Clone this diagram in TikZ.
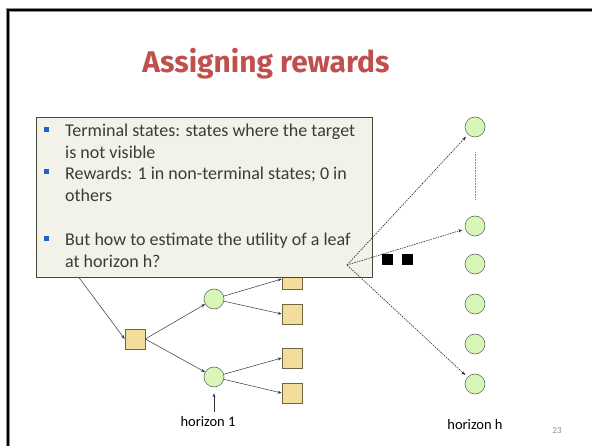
\documentclass[tikz,border=0pt]{standalone}
\usepackage{fontspec}
\setmainfont{Carlito}
\newfontfamily\titlefont{Fira Sans}
\usetikzlibrary{arrows.meta}

\definecolor{titlered}{RGB}{192,80,77}
\definecolor{sqfill}{RGB}{242,221,154}
\definecolor{sqline}{RGB}{110,100,70}
\definecolor{stfill}{RGB}{216,246,184}
\definecolor{stline}{RGB}{100,110,95}
\definecolor{notefill}{RGB}{242,242,232}
\definecolor{noteline}{RGB}{72,72,56}
\definecolor{notetext}{RGB}{60,60,55}
\definecolor{bulletblue}{RGB}{32,96,205}

\tikzset{
  action/.style={draw=sqline, fill=sqfill, minimum size=20pt, inner sep=0pt, line width=0.6pt},
  state/.style={circle, draw=stline, fill=stfill, minimum size=20pt, inner sep=0pt, line width=0.6pt},
  blob/.style={fill=black, minimum size=11pt, inner sep=0pt},
  edge/.style={draw=black!80, line width=0.5pt, -{Stealth[length=4pt,width=3pt]}},
  fan/.style={draw=black!85, line width=0.6pt, dash pattern=on 1.5pt off 1pt, -{Stealth[length=4pt,width=3pt]}, shorten >=3pt},
  note/.style={draw=noteline, fill=notefill, line width=1.4pt, anchor=north west, inner sep=0pt},
  notetxt/.style={anchor=base west, inner sep=0pt, text=notetext, font=\fontsize{18}{21}\selectfont},
  bullet/.style={fill=bulletblue, minimum size=5pt, inner sep=0pt},
  lbl/.style={inner sep=0pt, text=black, font=\fontsize{14.5}{17}\selectfont},
}

\begin{document}
\begin{tikzpicture}[x=1pt,y=-1pt]
\useasboundingbox (0,0) rectangle (592,446);

% slide frame (left and top edges only)
\draw[line width=3.2pt, black!45] (8,447) -- (8,10) -- (593,10);
\draw[line width=2.2pt, black] (8,447) -- (8,10) -- (593,10);

% title
\node[text=titlered, inner sep=0pt] (title) at (266,64)
  {\resizebox{247pt}{!}{\titlefont\bfseries Assigning rewards}};

% expectimax-style tree, first level
\coordinate (in0) at (51,240);
\node[action] (root) at (135,339) {};
\node[state] (c1) at (214,299) {};
\node[state] (c2) at (214,377) {};
\node[action] (l1) at (292,279) {};
\node[action] (l2) at (292,314) {};
\node[action] (l3) at (292,358) {};
\node[action] (l4) at (292,393) {};

\draw[edge] (in0) -- (root.west);
\draw[edge] (root.east) -- (c1);
\draw[edge] (root.east) -- (c2);
\draw[edge] (c1) -- (l1.west);
\draw[edge] (c1) -- (l2.west);
\draw[edge] (c2) -- (l3.west);
\draw[edge] (c2) -- (l4.west);

% ellipsis between the levels
\node[blob] (b1) at (367,259.5) {};
\node[blob] (b2) at (387,259.5) {};
\node[blob] (b3) at (407,259.5) {};

% leaves at horizon h
\node[state] (r1) at (475,127) {};
\node[state] (r2) at (475,226) {};
\node[state] (r3) at (475,264) {};
\node[state] (r4) at (475,304) {};
\node[state] (r5) at (475,344) {};
\node[state] (r6) at (475,384) {};
\draw[black!50, line width=0.6pt, densely dotted, shorten <=15pt, shorten >=16pt] (r1.south) -- (r2.north);

% labels
\node[lbl] (h1) at (208,422) {horizon 1};
\coordinate (h1top) at (214,412);
\draw[edge, shorten >=6pt] (h1top) -- (c2.south);
\node[lbl] (hh) at (475,425) {horizon h};
\node[inner sep=0pt, text=black!45, font=\fontsize{9}{10}\selectfont] (pg) at (557,431) {23};

% callout box
\node[note, minimum width=336pt, minimum height=160pt] (callout) at (36,117) {};
\node[bullet] (k1) at (46,130) {};
\node[bullet] (k2) at (46,172) {};
\node[bullet] (k3) at (46,238.5) {};
\node[notetxt] (t1) at (65,137) {Terminal states: states where the target};
\node[notetxt] (t2) at (65,158.5) {is not visible};
\node[notetxt] (t3) at (65,180) {Rewards: 1 in non-terminal states; 0 in};
\node[notetxt] (t4) at (65,202) {others};
\node[notetxt] (t5) at (65,246) {But how to estimate the utility of a leaf};
\node[notetxt] (t6) at (65,268) {at horizon h?};

% fan of dotted arrows to the horizon-h leaves
\coordinate (fanroot) at (347,265);
\draw[fan] (fanroot) -- (r1);
\draw[fan] (fanroot) -- (r2);
\draw[fan] (fanroot) -- (r6);
\end{tikzpicture}
\end{document}
